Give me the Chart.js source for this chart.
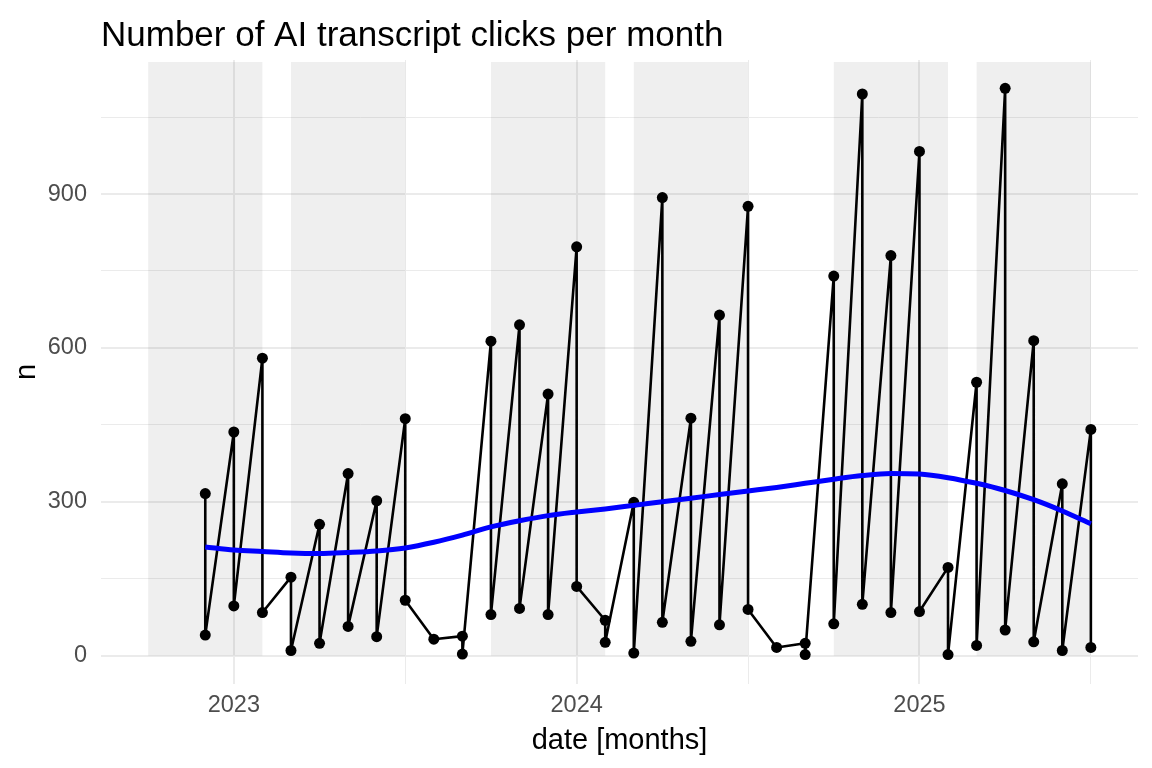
<!DOCTYPE html>
<html>
<head>
<meta charset="utf-8">
<script src="https://cdn.jsdelivr.net/npm/chart.js@4.4.1/dist/chart.umd.min.js"></script>
<style>
  html, body { margin: 0; padding: 0; background: #fff; }
</style>
</head>
<body>
<canvas id="clicks-chart" width="1152" height="768"></canvas>
<script>
// one entry per month; each month has up to two observations, drawn in this order
const months = [
  "2022-12", "2023-01", "2023-02", "2023-03", "2023-04", "2023-05", "2023-06", "2023-07",
  "2023-08", "2023-09", "2023-10", "2023-11", "2023-12", "2024-01", "2024-02", "2024-03",
  "2024-04", "2024-05", "2024-06", "2024-07", "2024-08", "2024-09", "2024-10", "2024-11",
  "2024-12", "2025-01", "2025-02", "2025-03", "2025-04", "2025-05", "2025-06", "2025-07"
]
const firstCounts = [
  316, 436, 580, 153, 256, 355, 302, 462, 32, 38, 613, 645, 510, 797, 69, 299,
  893, 463, 664, 876, 16, 24, 740, 1095, 780, 983, 172, 533, 1106, 614, 335, 441
]
const secondCounts = [
  40, 97, 84, 10, 24, 57, 37, 108, null, 3, 80, 92, 80, 135, 26, 5,
  65, 28, 60, 90, null, 2, 62, 100, 84, 86, 2, 20, 50, 27, 10, 16
]
// loess trend
const trend = [
  212, 206, 203, 200, 199, 201, 204, 210, 221, 235, 251, 263, 273, 280, 286, 293,
  300, 307, 314, 321, 328, 336, 344, 351, 355, 354, 347, 336, 322, 304, 282, 257
]

// lecture periods (shaded)
const semesterStart = ["2022-10", "2023-03", "2023-10", "2024-03", "2024-10", "2025-03"]
const semesterEnd = ["2023-02", "2023-07", "2024-02", "2024-07", "2025-02", "2025-07"]

const xTicks = [2023, 2023.5, 2024, 2024.5, 2025, 2025.5]
const xTickLabels = ["2023", "", "2024", "", "2025", ""]
const yTicks = [0, 150, 300, 450, 600, 750, 900, 1050]
const yTickLabels = ["0", "", "300", "", "600", "", "900", ""]

const titleText = "Number of AI transcript clicks per month"

const toX = (s) => {
  const [yr, mo] = s.split("-").map(Number)
  return yr + (mo - 1) / 12
}

const clickPoints = []
months.forEach((m, i) => {
  clickPoints.push({ x: toX(m), y: firstCounts[i] })
  if (secondCounts[i] !== null) clickPoints.push({ x: toX(m), y: secondCounts[i] })
})
const trendPoints = months.map((m, i) => ({ x: toX(m), y: trend[i] }))

const FONT = '"Liberation Sans", Arial, sans-serif'

const semesterShading = {
  id: "semesterShading",
  beforeDatasetsDraw(chart) {
    const { ctx, chartArea, scales: { x, y } } = chart
    ctx.save()
    ctx.fillStyle = "rgba(0,0,0,0.062)"
    semesterStart.forEach((s, i) => {
      const x0 = x.getPixelForValue(toX(s))
      const x1 = x.getPixelForValue(toX(semesterEnd[i]))
      const y0 = chartArea.top + 2
      const y1 = y.getPixelForValue(0)
      ctx.fillRect(x0, y0, x1 - x0, y1 - y0)
    })
    ctx.restore()
  }
}

const plotTitle = {
  id: "plotTitle",
  afterDraw(chart) {
    const { ctx, chartArea } = chart
    ctx.save()
    ctx.font = "35px " + FONT
    ctx.fillStyle = "#000"
    ctx.textAlign = "left"
    ctx.textBaseline = "alphabetic"
    ctx.fillText(titleText, chartArea.left, 46)
    ctx.restore()
  }
}

const gridColor = "#EBEBEB"

new Chart(document.getElementById("clicks-chart"), {
  type: "line",
  data: {
    datasets: [
      {
        label: "trend",
        data: trendPoints,
        borderColor: "#0000FF",
        borderWidth: 5,
        pointRadius: 0,
        cubicInterpolationMode: "monotone",
        fill: false
      },
      {
        label: "n",
        data: clickPoints,
        borderColor: "#000",
        borderWidth: 2.6,
        borderJoinStyle: "round",
        borderCapStyle: "round",
        pointRadius: 5.5,
        pointBackgroundColor: "#000",
        pointBorderWidth: 0,
        tension: 0,
        fill: false
      }
    ]
  },
  options: {
    responsive: false,
    animation: false,
    layout: { padding: { top: 60, right: 14, left: 0, bottom: 0 } },
    plugins: {
      legend: { display: false },
      tooltip: { enabled: false }
    },
    scales: {
      x: {
        type: "linear",
        min: 2022.6125,
        max: 2025.6375,
        afterBuildTicks: (axis) => { axis.ticks = xTicks.map(v => ({ value: v })) },
        afterFit: (axis) => { axis.height = 84 },
        ticks: {
          autoSkip: false,
          maxRotation: 0,
          padding: 7,
          color: "#4D4D4D",
          font: { family: FONT, size: 23.5 },
          callback: (v, i) => xTickLabels[i]
        },
        grid: {
          color: gridColor,
          lineWidth: (c) => (c.tick && Number.isInteger(c.tick.value) ? 2 : 1),
          drawTicks: false
        },
        border: { display: false },
        title: {
          display: true,
          text: "date [months]",
          color: "#000",
          font: { family: FONT, size: 29 },
          padding: { top: 0, bottom: 10 }
        }
      },
      y: {
        type: "linear",
        min: -55.3,
        max: 1161.3,
        afterBuildTicks: (axis) => { axis.ticks = yTicks.map(v => ({ value: v })) },
        afterFit: (axis) => { axis.width = 101 },
        ticks: {
          padding: 14,
          color: "#4D4D4D",
          font: { family: FONT, size: 23.5 },
          callback: (v, i) => yTickLabels[i]
        },
        grid: {
          color: gridColor,
          lineWidth: (c) => (c.tick && c.tick.value % 300 === 0 ? 2 : 1),
          drawTicks: false
        },
        border: { display: false },
        title: {
          display: true,
          text: "n",
          color: "#000",
          font: { family: FONT, size: 29 },
          padding: { top: 10, bottom: 0 }
        }
      }
    }
  },
  plugins: [semesterShading, plotTitle]
})
</script>
</body>
</html>
